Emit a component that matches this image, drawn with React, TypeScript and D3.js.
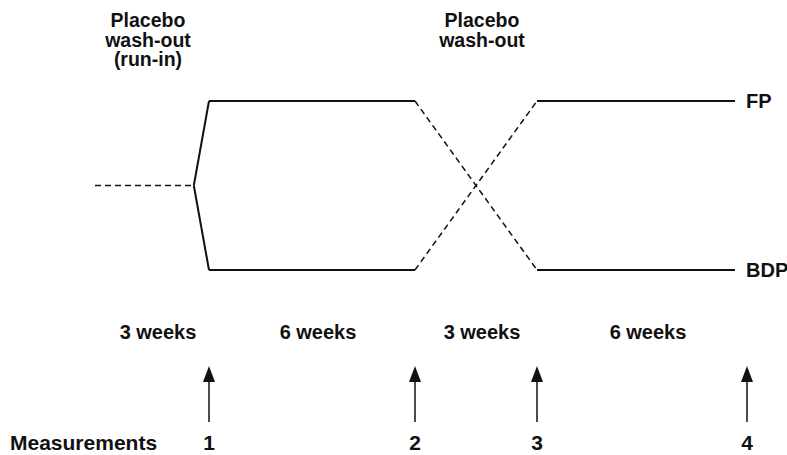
import React from "react";
import * as d3 from "d3";

// Study timeline (weeks) and phase boundaries
const phaseWeeks = [0, 3, 9, 12, 18];
const phaseLabels = ["3 weeks", "6 weeks", "3 weeks", "6 weeks"];
const washoutLabels = [
  { lines: ["Placebo", "wash-out", "(run-in)"], from: 0, to: 3, dx: -4 },
  { lines: ["Placebo", "wash-out"], from: 9, to: 12, dx: 6 },
];
const measurementWeeks = [3, 9, 12, 18];
const measurementLabels = ["1", "2", "3", "4"];
const branchWeek = 2.6;

// treatment level: 1 = upper arm, -1 = lower arm, 0 = common run-in
const runIn = [
  { w: 0, v: 0 },
  { w: branchWeek, v: 0 },
];
const groupA = [
  { w: branchWeek, v: 0 },
  { w: 3, v: 1 },
  { w: 9, v: 1 },
  { w: 12, v: -1 },
  { w: 18, v: -1 },
];
const groupB = [
  { w: branchWeek, v: 0 },
  { w: 3, v: -1 },
  { w: 9, v: -1 },
  { w: 12, v: 1 },
  { w: 18, v: 1 },
];
const endLabels = [
  { v: 1, text: "FP" },
  { v: -1, text: "BDP" },
];

const W = 787;
const H = 455;
const FONT = "'Liberation Sans', Arial, Helvetica, sans-serif";

export default function App() {
  const x = d3.scaleLinear().domain(phaseWeeks).range([95, 209, 415, 537, 747]);
  const y = d3.scaleLinear().domain([-1, 1]).range([270, 101]);
  const endPad = 12;
  const px = (w: number) => (w === 18 ? x(w) - endPad : x(w));

  const line = d3
    .line<{ w: number; v: number }>()
    .x((d) => px(d.w))
    .y((d) => y(d.v));

  // split a group's path into solid / dashed segments (washout = dashed)
  const segs = (g: { w: number; v: number }[]) => {
    const out: { d: string; dashed: boolean }[] = [];
    for (let i = 0; i < g.length - 1; i++) {
      const a = g[i];
      const b = g[i + 1];
      const dashed = a.w >= 9 && b.w <= 12;
      out.push({ d: line([a, b]) as string, dashed });
    }
    return out;
  };

  const allSegs = [...segs(groupA), ...segs(groupB)];

  const arrowTop = 366;
  const arrowBottom = 422;

  return (
    <svg
      width={W}
      height={H}
      style={{ position: "absolute", left: 0, top: 0, background: "#fff" }}
      fontFamily={FONT}
      fontWeight="bold"
    >
      <rect width={W} height={H} fill="#fff" />
      {/* run-in dashed line */}
      <path d={line(runIn) as string} fill="none" stroke="#111" strokeWidth={1.5} strokeDasharray="6,4" />
      {allSegs.map((s, i) => (
        <path
          key={i}
          d={s.d}
          fill="none"
          stroke="#111"
          strokeWidth={s.dashed ? 1.5 : 2}
          strokeDasharray={s.dashed ? "6,4" : undefined}
        />
      ))}
      {endLabels.map((e) => (
        <text key={e.text} x={746} y={y(e.v) + 7} fontSize={20} fill="#111">
          {e.text}
        </text>
      ))}
      {washoutLabels.map((l, i) => {
        const cx = (x(l.from) + x(l.to)) / 2 + l.dx;
        return (
          <g key={i}>
            {l.lines.map((t, j) => (
              <text key={j} x={cx} y={27 + j * 19.5} fontSize={19.5} textAnchor="middle" fill="#111">
                {t}
              </text>
            ))}
          </g>
        );
      })}
      {phaseLabels.map((t, i) => (
        <text
          key={i}
          x={(x(phaseWeeks[i]) + x(phaseWeeks[i + 1])) / 2 + 6}
          y={339}
          fontSize={20}
          textAnchor="middle"
          fill="#111"
        >
          {t}
        </text>
      ))}
      {measurementWeeks.map((w, i) => (
        <g key={i}>
          <line x1={x(w)} x2={x(w)} y1={arrowBottom} y2={arrowTop + 14} stroke="#111" strokeWidth={1.5} />
          <path
            d={`M${x(w)},${arrowTop} L${x(w) - 6},${arrowTop + 16} L${x(w) + 6},${arrowTop + 16} Z`}
            fill="#111"
          />
          <text x={x(w)} y={450} fontSize={21} textAnchor="middle" fill="#111">
            {measurementLabels[i]}
          </text>
        </g>
      ))}
      <text x={10} y={450} fontSize={21} fill="#111">
        Measurements
      </text>
    </svg>
  );
}
